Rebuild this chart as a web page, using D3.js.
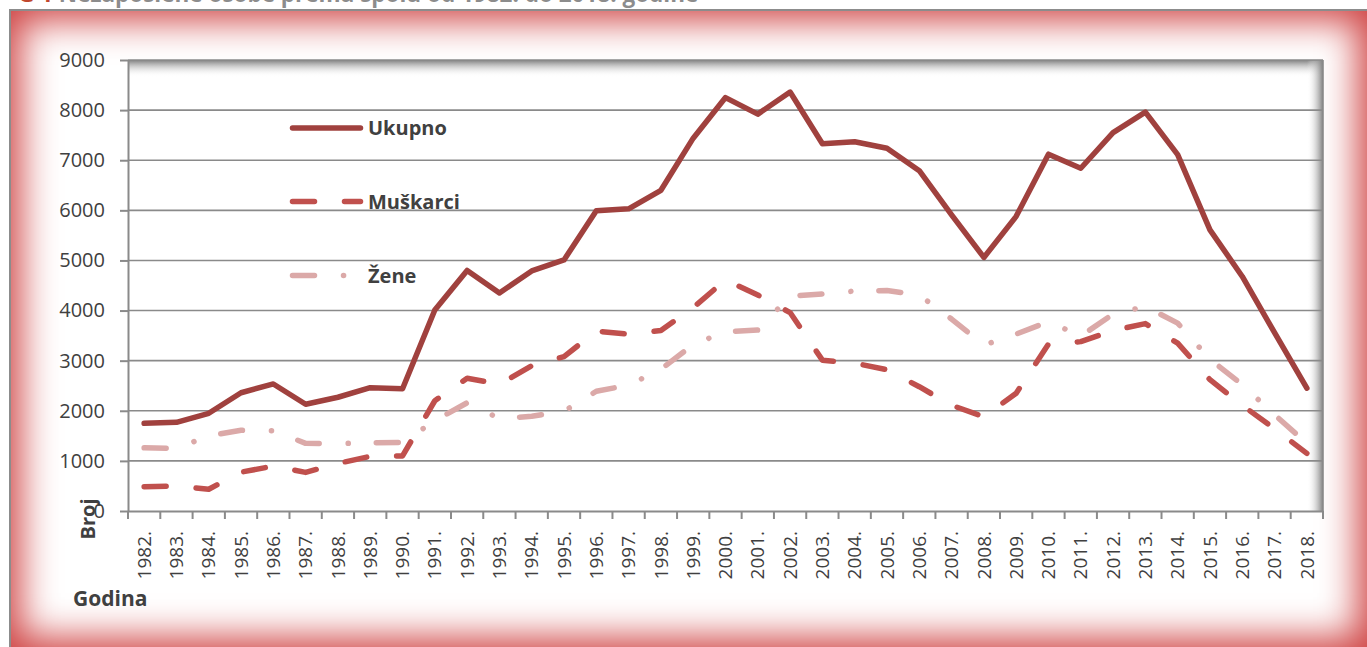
<!DOCTYPE html>
<html>
<head>
<meta charset="utf-8">
<script src="https://cdn.jsdelivr.net/npm/d3@7"></script>
<style>
    body { margin: 0; background: #ffffff; }
    text { font-family: "Open Sans", "Noto Sans", sans-serif; }
</style>
</head>
<body>
<div id="canvas"></div>
<script>
"use strict"

/* Data: unemployed persons by sex, 1982 - 2018 */
let years = ["1982.", "1983.", "1984.", "1985.", "1986.", "1987.", "1988.", "1989.", "1990.",
    "1991.", "1992.", "1993.", "1994.", "1995.", "1996.", "1997.", "1998.", "1999.", "2000.",
    "2001.", "2002.", "2003.", "2004.", "2005.", "2006.", "2007.", "2008.", "2009.", "2010.",
    "2011.", "2012.", "2013.", "2014.", "2015.", "2016.", "2017.", "2018."];

let ukupno = [1750, 1770, 1950, 2360, 2535, 2130, 2270, 2460, 2440,
    4010, 4800, 4350, 4790, 5010, 5990, 6030, 6400, 7440, 8250,
    7920, 8360, 7330, 7370, 7240, 6790, 5910, 5060, 5880, 7120,
    6840, 7550, 7960, 7110, 5610, 4680, 3560, 2450];

let muskarci = [485, 500, 435, 775, 895, 770, 950, 1090, 1100,
    2200, 2650, 2530, 2900, 3080, 3590, 3530, 3600, 4060, 4610,
    4310, 3960, 3010, 2950, 2820, 2480, 2110, 1880, 2350, 3330,
    3380, 3600, 3740, 3350, 2620, 2110, 1640, 1150];

let zene = [1260, 1250, 1500, 1610, 1600, 1350, 1345, 1360, 1370,
    1800, 2160, 1845, 1890, 1990, 2390, 2510, 2830, 3320, 3580,
    3610, 4290, 4330, 4390, 4400, 4310, 3830, 3310, 3530, 3780,
    3490, 3930, 4080, 3750, 3030, 2520, 1920, 1350];

let yTicks = [0, 1000, 2000, 3000, 4000, 5000, 6000, 7000, 8000, 9000];

let seriesNames = ["Ukupno", "Muškarci", "Žene"];

/* Configuration variables: drawing */
let svgWidth = 1367;
let svgHeight = 647;
let plot = { left: 128, right: 1323, top: 60, bottom: 511 };
let gridColor = "#8a8a8a";
let textColor = "#404040";

let seriesStyle = [
    { color: "#a0413e", dash: null },
    { color: "#c0504d", dash: "22,30" },
    { color: "#dba9a8", dash: "22,29,0.1,28" }
];

let svg = d3.select("#canvas")
    .append("svg")
    .attr("width", svgWidth)
    .attr("height", svgHeight);

let defs = svg.append("defs");

defs.append("filter")
    .attr("id", "soft")
    .attr("x", "-20%").attr("y", "-20%")
    .attr("width", "140%").attr("height", "140%")
    .append("feGaussianBlur")
    .attr("stdDeviation", 18);

defs.append("clipPath")
    .attr("id", "frameClip")
    .append("rect")
    .attr("x", 10).attr("y", 10)
    .attr("width", 1360).attr("height", 640);

let topShade = defs.append("linearGradient")
    .attr("id", "topShade")
    .attr("x1", 0).attr("y1", 0).attr("x2", 0).attr("y2", 1);
topShade.append("stop").attr("offset", "0%").attr("stop-color", "#7f7f7f").attr("stop-opacity", 1);
topShade.append("stop").attr("offset", "100%").attr("stop-color", "#ffffff").attr("stop-opacity", 0);

let rightShade = defs.append("linearGradient")
    .attr("id", "rightShade")
    .attr("x1", 1).attr("y1", 0).attr("x2", 0).attr("y2", 0);
rightShade.append("stop").attr("offset", "0%").attr("stop-color", "#7f7f7f").attr("stop-opacity", 1);
rightShade.append("stop").attr("offset", "100%").attr("stop-color", "#ffffff").attr("stop-opacity", 0);

/* Title, cut by the top of the picture */
let title = svg.append("text")
    .attr("x", 18)
    .attr("y", 2)
    .attr("font-size", "22.5px")
    .attr("font-weight", "bold")
    .attr("fill", "#8c8c8c");
title.append("tspan").attr("fill", "#c0472e").text("G 1 ");
title.append("tspan").text("Nezaposlene osobe prema spolu od 1982. do 2018. godine");

/* Frame: red edges fading to white */
let frame = svg.append("g").attr("clip-path", "url(#frameClip)");
frame.append("rect")
    .attr("x", 10).attr("y", 10)
    .attr("width", 1360).attr("height", 640)
    .attr("fill", "#d04747");
frame.append("rect")
    .attr("x", 21).attr("y", 21)
    .attr("width", 1336).attr("height", 616)
    .attr("fill", "#ffffff")
    .attr("filter", "url(#soft)");
svg.append("rect")
    .attr("x", 10).attr("y", 10)
    .attr("width", 1362).attr("height", 642)
    .attr("fill", "none")
    .attr("stroke", "#8c8c8c")
    .attr("stroke-width", 2);

/* Plot area with inner shadow on top and right */
svg.append("rect")
    .attr("x", plot.left).attr("y", plot.top)
    .attr("width", plot.right - plot.left)
    .attr("height", plot.bottom - plot.top)
    .attr("fill", "#ffffff");
svg.append("rect")
    .attr("x", plot.left).attr("y", plot.top)
    .attr("width", plot.right - plot.left)
    .attr("height", 17)
    .attr("fill", "url(#topShade)");
svg.append("rect")
    .attr("x", plot.right - 16).attr("y", plot.top)
    .attr("width", 16)
    .attr("height", plot.bottom - plot.top)
    .attr("fill", "url(#rightShade)");

/* Scales */
let x = d3.scaleBand()
    .domain(years)
    .range([plot.left, plot.right]);

let y = d3.scaleLinear()
    .domain([0, 9000])
    .range([plot.bottom, plot.top]);

let xCenter = function (i) {
    return x(years[i]) + x.bandwidth() / 2;
};

/* Gridlines */
svg.append("g")
    .selectAll("line")
    .data(yTicks.slice(1))
    .join("line")
    .attr("x1", plot.left)
    .attr("x2", plot.right)
    .attr("y1", d => y(d))
    .attr("y2", d => y(d))
    .attr("stroke", gridColor)
    .attr("stroke-width", 1.6);

svg.append("line")
    .attr("x1", plot.right).attr("x2", plot.right)
    .attr("y1", plot.top).attr("y2", plot.bottom)
    .attr("stroke", gridColor)
    .attr("stroke-width", 1.6);

/* Y axis */
let yAxis = svg.append("g")
    .attr("transform", "translate(" + plot.left + ",0)")
    .call(d3.axisLeft(y).tickValues(yTicks).tickFormat(d3.format("d"))
        .tickSize(8).tickPadding(15).tickSizeOuter(0));
yAxis.select(".domain").attr("stroke", gridColor).attr("stroke-width", 2);
yAxis.selectAll(".tick line").attr("stroke", gridColor).attr("stroke-width", 2);
yAxis.selectAll(".tick text")
    .attr("font-family", "'Open Sans', sans-serif")
    .attr("font-size", "20px")
    .attr("fill", textColor);

/* X axis: labels at category centers, ticks at boundaries */
let xAxis = svg.append("g")
    .attr("transform", "translate(0," + plot.bottom + ")")
    .call(d3.axisBottom(x).tickSize(0).tickSizeOuter(0));
xAxis.select(".domain").attr("stroke", gridColor).attr("stroke-width", 2);
xAxis.selectAll(".tick text")
    .attr("font-family", "'Open Sans', sans-serif")
    .attr("font-size", "19px")
    .attr("fill", textColor)
    .attr("text-anchor", "end")
    .attr("transform", "translate(0,20) rotate(-90)")
    .attr("x", 0)
    .attr("y", 0)
    .attr("dy", "0.35em");

let boundaries = years.map(d => x(d)).concat([x.range()[1]]);
svg.append("g")
    .selectAll("line")
    .data(boundaries)
    .join("line")
    .attr("x1", d => d).attr("x2", d => d)
    .attr("y1", plot.bottom).attr("y2", plot.bottom + 8)
    .attr("stroke", gridColor)
    .attr("stroke-width", 2);

/* Axis titles */
svg.append("text")
    .attr("transform", "translate(95,519) rotate(-90)")
    .attr("text-anchor", "middle")
    .attr("font-size", "20px")
    .attr("font-weight", "bold")
    .attr("fill", textColor)
    .text("Broj");

svg.append("text")
    .attr("x", 73)
    .attr("y", 606)
    .attr("font-size", "21px")
    .attr("font-weight", "bold")
    .attr("fill", textColor)
    .text("Godina");

/* Series lines */
let line = d3.line()
    .x((d, i) => xCenter(i))
    .y(d => y(d));

let allSeries = [ukupno, muskarci, zene];

svg.append("g")
    .selectAll("path")
    .data(allSeries)
    .join("path")
    .attr("d", d => line(d))
    .attr("fill", "none")
    .attr("stroke", (d, i) => seriesStyle[i].color)
    .attr("stroke-width", 5.5)
    .attr("stroke-linejoin", "round")
    .attr("stroke-linecap", "round")
    .attr("stroke-dasharray", (d, i) => seriesStyle[i].dash);

/* Legend inside the plot */
let legendY = [128, 201.5, 275.5];
let legend = svg.append("g")
    .selectAll("g")
    .data(seriesNames)
    .join("g")
    .attr("transform", (d, i) => "translate(0," + legendY[i] + ")");

legend.append("line")
    .attr("x1", 292.5).attr("x2", 360.5)
    .attr("y1", 0).attr("y2", 0)
    .attr("stroke", (d, i) => seriesStyle[i].color)
    .attr("stroke-width", 5.5)
    .attr("stroke-linecap", "round")
    .attr("stroke-dasharray", (d, i) => seriesStyle[i].dash);

legend.append("text")
    .attr("x", 368)
    .attr("y", 7)
    .attr("font-size", "20px")
    .attr("font-weight", "bold")
    .attr("fill", textColor)
    .text(d => d);
</script>
</body>
</html>
